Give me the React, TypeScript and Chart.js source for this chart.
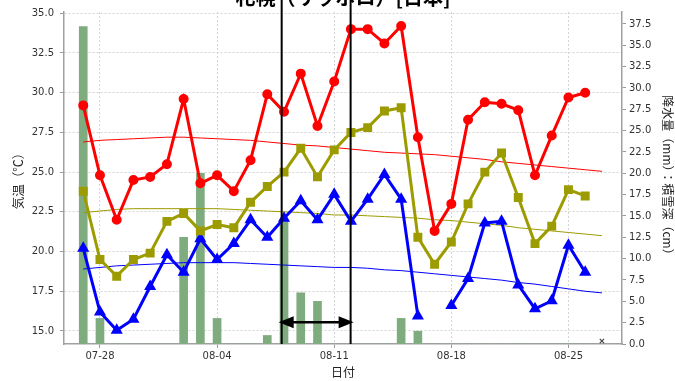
import React, { useEffect, useRef } from "react";
import { Chart, registerables } from "chart.js";

Chart.register(...registerables);

// ---- data ----
const titleText = "札幌（サッポロ）[日本]";
const dates = [
  "07-27", "07-28", "07-29", "07-30", "07-31", "08-01", "08-02", "08-03",
  "08-04", "08-05", "08-06", "08-07", "08-08", "08-09", "08-10", "08-11",
  "08-12", "08-13", "08-14", "08-15", "08-16", "08-17", "08-18", "08-19",
  "08-20", "08-21", "08-22", "08-23", "08-24", "08-25", "08-26", "08-27",
];
const xTickLabels = ["07-28", "08-04", "08-11", "08-18", "08-25"];
const leftTicks = [15, 17.5, 20, 22.5, 25, 27.5, 30, 32.5, 35];
const rightTicks = [0, 2.5, 5, 7.5, 10, 12.5, 15, 17.5, 20, 22.5, 25, 27.5, 30, 32.5, 35, 37.5];

const tempMax = [
  29.2, 24.8, 22.0, 24.5, 24.7, 25.5, 29.6, 24.3, 24.8, 23.8, 25.75, 29.9, 28.8, 31.2, 27.9, 30.7,
  34.0, 34.0, 33.1, 34.2, 27.2, 21.3, 23.0, 28.3, 29.4, 29.3, 28.9, 24.8, 27.3, 29.7, 30.0,
];
const tempMean = [
  23.8, 19.5, 18.45, 19.5, 19.9, 21.9, 22.4, 21.3, 21.7, 21.5, 23.1, 24.1, 25.0, 26.5, 24.7, 26.4,
  27.5, 27.8, 28.85, 29.05, 20.9, 19.2, 20.6, 23.0, 25.0, 26.2, 23.4, 20.5, 21.6, 23.9, 23.5,
];
const tempMin = [
  20.2, 16.2, 15.05, 15.74, 17.8, 19.8, 18.7, 20.8, 19.5, 20.5, 22.0, 20.9, 22.1, 23.2, 22.0, 23.6,
  21.9, 23.3, 24.85, 23.3, 15.95, null, 16.6, 18.3, 21.8, 21.9, 17.9, 16.4, 16.9, 20.4, 18.7,
];
const normalMax = [
  26.9, 27.0, 27.05, 27.1, 27.15, 27.2, 27.2, 27.15, 27.1, 27.05, 27.0, 26.9, 26.8, 26.7, 26.65, 26.55,
  26.45, 26.35, 26.25, 26.2, 26.15, 26.1, 26.0, 25.9, 25.8, 25.65, 25.55, 25.45, 25.35, 25.25, 25.15, 25.05,
];
const normalMean = [
  22.45, 22.55, 22.65, 22.7, 22.7, 22.7, 22.7, 22.7, 22.7, 22.65, 22.6, 22.55, 22.5, 22.45, 22.4, 22.3,
  22.3, 22.25, 22.2, 22.15, 22.1, 22.0, 21.95, 21.85, 21.75, 21.65, 21.5, 21.4, 21.3, 21.2, 21.1, 21.0,
];
const normalMin = [
  18.9, 19.0, 19.1, 19.15, 19.2, 19.25, 19.3, 19.3, 19.3, 19.3, 19.25, 19.2, 19.15, 19.1, 19.05, 19.0,
  19.0, 18.95, 18.85, 18.8, 18.7, 18.6, 18.5, 18.4, 18.3, 18.2, 18.05, 17.95, 17.8, 17.65, 17.5, 17.4,
];
const precipitation = [
  37.2, 3.0, 0, 0, 0, 0, 12.5, 20.0, 3.0, 0, 0, 1.0, 14.5, 6.0, 5.0, 0,
  0, 0, 0, 3.0, 1.5, 0, 0, 0, 0, 0, 0, 0, 0, 0, 0,
];
const snowDepthDates = ["08-27"];
const snowDepth = [0.35];
const periodBounds = [11.86, 15.98]; // day positions of the marked period
const arrowLevel = 2.55; // on the right axis

const toPoints = (arr: (number | null)[]) => arr.map((v, i) => ({ x: i, y: v }));

const TICK_FONT = { family: "DejaVu Sans", size: 10 };
const CJK = "'Noto Sans CJK JP', 'DejaVu Sans', sans-serif";

const overlay = {
  id: "overlay",
  afterDatasetsDraw(chart: any) {
    const { ctx, chartArea, scales } = chart;
    const xs = scales.x;
    const y2 = scales.y2;
    ctx.save();
    // title (partly outside the page at the top)
    ctx.fillStyle = "#000";
    ctx.font = `bold 20px ${CJK}`;
    ctx.textAlign = "center";
    ctx.textBaseline = "alphabetic";
    ctx.fillText(titleText, (chartArea.left + chartArea.right) / 2, 5);

    // period lines
    const px = periodBounds.map((d) => xs.getPixelForValue(d));
    ctx.strokeStyle = "#000";
    ctx.lineWidth = 2;
    px.forEach((p) => {
      ctx.beginPath();
      ctx.moveTo(p, 0);
      ctx.lineTo(p, chartArea.bottom);
      ctx.stroke();
    });
    // double arrow
    const ay = y2.getPixelForValue(arrowLevel);
    const a = px[0] - 3;
    const b = px[1] + 3;
    const head = 15;
    const hw = 6;
    ctx.lineWidth = 2.5;
    ctx.beginPath();
    ctx.moveTo(a + head - 1, ay);
    ctx.lineTo(b - head + 1, ay);
    ctx.stroke();
    ctx.fillStyle = "#000";
    ctx.beginPath();
    ctx.moveTo(a, ay);
    ctx.lineTo(a + head, ay - hw);
    ctx.lineTo(a + head, ay + hw);
    ctx.closePath();
    ctx.fill();
    ctx.beginPath();
    ctx.moveTo(b, ay);
    ctx.lineTo(b - head, ay - hw);
    ctx.lineTo(b - head, ay + hw);
    ctx.closePath();
    ctx.fill();
    ctx.restore();
  },
};

export default function App() {
  const ref = useRef<HTMLCanvasElement>(null);
  useEffect(() => {
    if (!ref.current) return;
    const lineCommon = {
      type: "line" as const,
      yAxisID: "y",
      spanGaps: false,
      tension: 0,
    };
    const chart = new Chart(ref.current, {
      type: "line",
      data: {
        datasets: [
          {
            ...lineCommon,
            label: "最高気温",
            data: toPoints(tempMax),
            borderColor: "#ff0000",
            backgroundColor: "#ff0000",
            borderWidth: 3,
            pointStyle: "circle",
            pointRadius: 3.5,
            order: 1,
          },
          {
            ...lineCommon,
            label: "平均気温",
            data: toPoints(tempMean),
            borderColor: "#9c9c00",
            backgroundColor: "#9c9c00",
            borderWidth: 3,
            pointStyle: "rect",
            pointRadius: 4.2,
            order: 2,
          },
          {
            ...lineCommon,
            label: "最低気温",
            data: toPoints(tempMin),
            borderColor: "#0000ff",
            backgroundColor: "#0000ff",
            borderWidth: 3,
            pointStyle: "triangle",
            pointRadius: 4,
            order: 3,
          },
          {
            ...lineCommon,
            label: "平年最高",
            data: toPoints(normalMax),
            borderColor: "#ff0000",
            borderWidth: 1,
            pointRadius: 0,
            order: 4,
          },
          {
            ...lineCommon,
            label: "平年平均",
            data: toPoints(normalMean),
            borderColor: "#9c9c00",
            borderWidth: 1,
            pointRadius: 0,
            order: 5,
          },
          {
            ...lineCommon,
            label: "平年最低",
            data: toPoints(normalMin),
            borderColor: "#0000ff",
            borderWidth: 1,
            pointRadius: 0,
            order: 6,
          },
          {
            type: "scatter" as const,
            label: "積雪深",
            yAxisID: "y2",
            data: snowDepth.map((v, i) => ({ x: dates.indexOf(snowDepthDates[i]), y: v })),
            pointStyle: "crossRot",
            pointRadius: 3,
            borderColor: "#444",
            borderWidth: 1.2,
            order: 7,
          } as any,
          {
            type: "bar" as const,
            label: "降水量",
            yAxisID: "y2",
            data: toPoints(precipitation),
            backgroundColor: "#7fac7f",
            borderWidth: 0,
            barThickness: 8,
            order: 10,
          } as any,
        ],
      },
      options: {
        responsive: false,
        animation: false,
        layout: { padding: { top: 12, left: 0, right: 0, bottom: 0 } },
        plugins: {
          legend: { display: false },
          tooltip: { enabled: false },
          title: { display: false },
        },
        scales: {
          x: {
            type: "linear",
            position: "bottom",
            min: -1.15,
            max: 32.2,
            offset: false,
            afterBuildTicks: (s: any) => {
              s.ticks = xTickLabels.map((l) => ({ value: dates.indexOf(l) }));
            },
            afterFit: (s: any) => {
              s.height = 37;
            },
            ticks: {
              callback: (v: any) => dates[Math.round(Number(v))],
              font: TICK_FONT,
              color: "#333",
              padding: 2,
              maxRotation: 0,
              autoSkip: false,
            },
            grid: {
              offset: false,
              color: "#d4d4d4",
              drawTicks: true,
              tickLength: 4,
              tickColor: "#999",
              tickBorderDash: [],
            },
            border: { display: true, color: "#a0a0a0", width: 1.5, dash: [2, 2] },
            title: {
              display: true,
              text: "日付",
              font: { family: CJK, size: 12 },
              color: "#222",
              padding: { top: 0, bottom: 1 },
            },
          },
          y: {
            type: "linear",
            position: "left",
            min: 14.18,
            max: 35.08,
            afterBuildTicks: (s: any) => {
              s.ticks = leftTicks.map((v) => ({ value: v }));
            },
            afterFit: (s: any) => {
              s.width = 64;
            },
            ticks: {
              callback: (v: any) => Number(v).toFixed(1),
              font: TICK_FONT,
              color: "#333",
              padding: 6,
            },
            grid: {
              color: "#d4d4d4",
              drawTicks: true,
              tickLength: 4,
              tickColor: "#999",
              tickBorderDash: [],
            },
            border: { display: true, color: "#a0a0a0", width: 1.5, dash: [2, 2] },
            title: {
              display: true,
              text: "気温（℃）",
              font: { family: CJK, size: 12.5 },
              color: "#222",
              padding: { top: 11, bottom: 0 },
            },
          },
          y2: {
            type: "linear",
            position: "right",
            min: 0,
            max: 38.9,
            afterBuildTicks: (s: any) => {
              s.ticks = rightTicks.map((v) => ({ value: v }));
            },
            afterFit: (s: any) => {
              s.width = 53;
            },
            ticks: {
              callback: (v: any) => Number(v).toFixed(1),
              font: TICK_FONT,
              color: "#333",
              padding: 3,
            },
            grid: {
              drawOnChartArea: false,
              drawTicks: true,
              tickLength: 4,
              tickColor: "#999",
              tickBorderDash: [],
            },
            border: { display: true, color: "#a0a0a0", width: 1.5 },
            title: {
              display: true,
              text: "降水量（mm）：積雪深（cm）",
              font: { family: CJK, size: 12 },
              color: "#222",
              padding: { top: 0, bottom: 0 },
            },
          },
        },
      } as any,
      plugins: [overlay],
    });
    return () => chart.destroy();
  }, []);

  return (
    <div style={{ position: "fixed", left: 0, top: 0, width: 675, height: 381, background: "#fff" }}>
      <canvas ref={ref} width={675} height={381} style={{ display: "block", width: 675, height: 381 }} />
    </div>
  );
}
